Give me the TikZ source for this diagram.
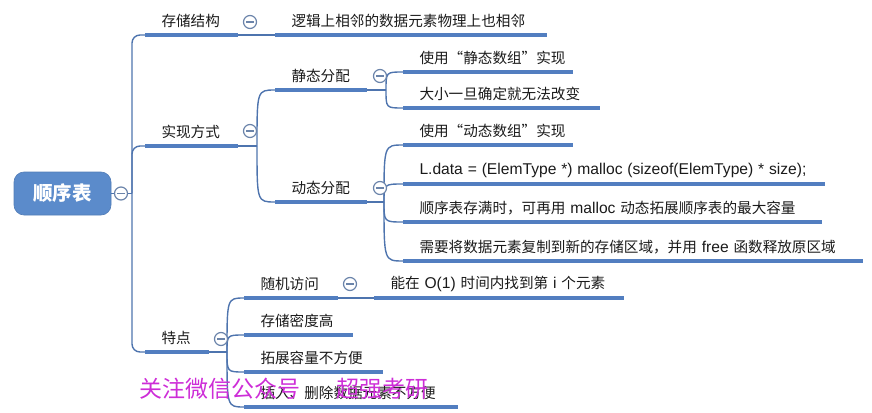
\documentclass[tikz,border=0pt]{standalone}
\usepackage{fontspec}
\setmainfont{Noto Sans CJK SC}
\newfontfamily\lat[Scale=1.07]{Liberation Sans}
\usetikzlibrary{calc}

\definecolor{barblue}{RGB}{82,126,192}
\definecolor{linkblue}{RGB}{78,116,174}
\definecolor{rootblue}{RGB}{91,139,203}
\definecolor{foldgray}{RGB}{107,132,170}
\definecolor{ink}{RGB}{26,26,26}
\definecolor{markpink}{RGB}{205,45,215}

% indented, unbreakable topic label
\newcommand\tpc[1]{\hspace*{16.5pt}\mbox{#1}}
% Latin run inside a label
\newcommand\lt[1]{{\lat #1}}

\begin{document}
\begin{tikzpicture}[x=1pt,y=-1pt,
  topic/.style={anchor=south west, inner xsep=0pt, inner ysep=0pt, outer sep=0pt,
    minimum height=28pt, text width=#1, align=left, text=ink,
    font=\fontsize{14.6}{16}\selectfont},
  rootbox/.style={rounded corners=10pt, fill=rootblue, draw=rootblue!90!black, line width=0.6pt,
    minimum width=97pt, minimum height=43pt, inner sep=0pt, text=white,
    font=\fontsize{19.5}{22}\selectfont\bfseries},
  bar/.style={draw=barblue, line width=3.6pt},
  conn/.style={draw=linkblue, line width=1.4pt},
  fold/.style={circle, draw=foldgray, line width=1.2pt, fill=white, minimum size=13pt,
    inner sep=0pt, path picture={\draw[foldgray, line width=1.2pt]
      ([xshift=-3.6pt]path picture bounding box.center) --
      ([xshift=3.6pt]path picture bounding box.center);}},
]
\useasboundingbox (0,0) rectangle (872,412);

% root
\node[rootbox] (root) at (62.5,193.5) {顺序表};
\node[fold] (f0) at (121,193.5) {};
\coordinate (trunk) at (132,193.5);

% first level
\node[topic=93pt] (ccjg) at (145,35) {\tpc{存储结构}};
\node[topic=93pt] (sxfs) at (145,146) {\tpc{实现方式}};
\node[topic=64pt] (td) at (145,352) {\tpc{特点}};

% storage structure
\node[topic=272pt] (ljxl) at (275,35) {\tpc{逻辑上相邻的数据元素物理上也相邻}};

% implementation
\node[topic=92pt] (jtfp) at (275,90) {\tpc{静态分配}};
\node[topic=92pt] (dtfp) at (275,202) {\tpc{动态分配}};
\node[topic=170pt] (jt1) at (403,72) {\tpc{使用“静态数组”实现}};
\node[topic=197pt] (jt2) at (403,108) {\tpc{大小一旦确定就无法改变}};
\node[topic=170pt] (dt1) at (403,145) {\tpc{使用“动态数组”实现}};
\node[topic=422pt] (dt2) at (403,184) {\tpc{\lt{L.data = (ElemType *) malloc (sizeof(ElemType) * size);}}};
\node[topic=419pt] (dt3) at (403,222) {\tpc{顺序表存满时，可再用 \lt{malloc} 动态拓展顺序表的最大容量}};
\node[topic=460pt] (dt4) at (403,261) {\tpc{需要将数据元素复制到新的存储区域，并用 \lt{free} 函数释放原区域}};

% features
\node[topic=94pt] (sjfw) at (244,298) {\tpc{随机访问}};
\node[topic=250pt] (sjfw1) at (374,298) {\tpc{能在 \lt{O(1)} 时间内找到第 \lt{i} 个元素}};
\node[topic=109pt] (ccmd) at (244,335) {\tpc{存储密度高}};
\node[topic=139pt] (tzrl) at (244,372) {\tpc{拓展容量不方便}};
\node[topic=214pt] (crsc) at (244,407) {\tpc{插入、删除数据元素不方便}};

% fan-out points
\coordinate (sxfs-f) at ([xshift=19pt]sxfs.south east);
\coordinate (jtfp-f) at ([xshift=19pt]jtfp.south east);
\coordinate (dtfp-f) at ([xshift=17pt]dtfp.south east);
\coordinate (td-f) at ([xshift=18pt]td.south east);

% connectors
\draw[conn] (root.east) -- (f0.west);
\draw[conn] (f0.east) -- (trunk);
\draw[conn, rounded corners=8pt] (trunk) |- (ccjg.south west);
\draw[conn, rounded corners=8pt] (trunk) |- (sxfs.south west);
\draw[conn, rounded corners=8pt] (trunk) |- (td.south west);
\draw[conn] (ccjg.south east) -- (ljxl.south west);
\draw[conn] (sjfw.south east) -- (sjfw1.south west);

\draw[conn] (sxfs.south east) -- (sxfs-f);
\foreach \c in {jtfp,dtfp}
  \draw[conn] (sxfs-f) .. controls (sxfs-f |- \c.south west) .. (\c.south west);
\draw[conn] (jtfp.south east) -- (jtfp-f);
\foreach \c in {jt1,jt2}
  \draw[conn] (jtfp-f) .. controls (jtfp-f |- \c.south west) .. (\c.south west);
\draw[conn] (dtfp.south east) -- (dtfp-f);
\foreach \c in {dt1,dt2,dt3,dt4}
  \draw[conn] (dtfp-f) .. controls (dtfp-f |- \c.south west) .. (\c.south west);
\draw[conn] (td.south east) -- (td-f);
\foreach \c in {sjfw,ccmd,tzrl,crsc}
  \draw[conn] (td-f) .. controls (td-f |- \c.south west) .. (\c.south west);

% topic underlines
\foreach \n in {ccjg,sxfs,td,ljxl,jtfp,dtfp,jt1,jt2,dt1,dt2,dt3,dt4,sjfw,sjfw1,ccmd,tzrl,crsc}
  \draw[bar] (\n.south west) -- (\n.south east);

% collapse markers
\node[fold] (f1) at (250,22) {};
\node[fold] (f2) at (250,131) {};
\node[fold] (f3) at (380,76) {};
\node[fold] (f4) at (380,188) {};
\node[fold] (f5) at (221,339) {};
\node[fold] (f6) at (350,284) {};

% overlay caption
\node[anchor=west, inner sep=0pt, text=markpink, font=\fontsize{23}{26}\selectfont]
  (wm) at (139,389) {关注微信公众号\hspace{36pt}超强考研};
\end{tikzpicture}
\end{document}
